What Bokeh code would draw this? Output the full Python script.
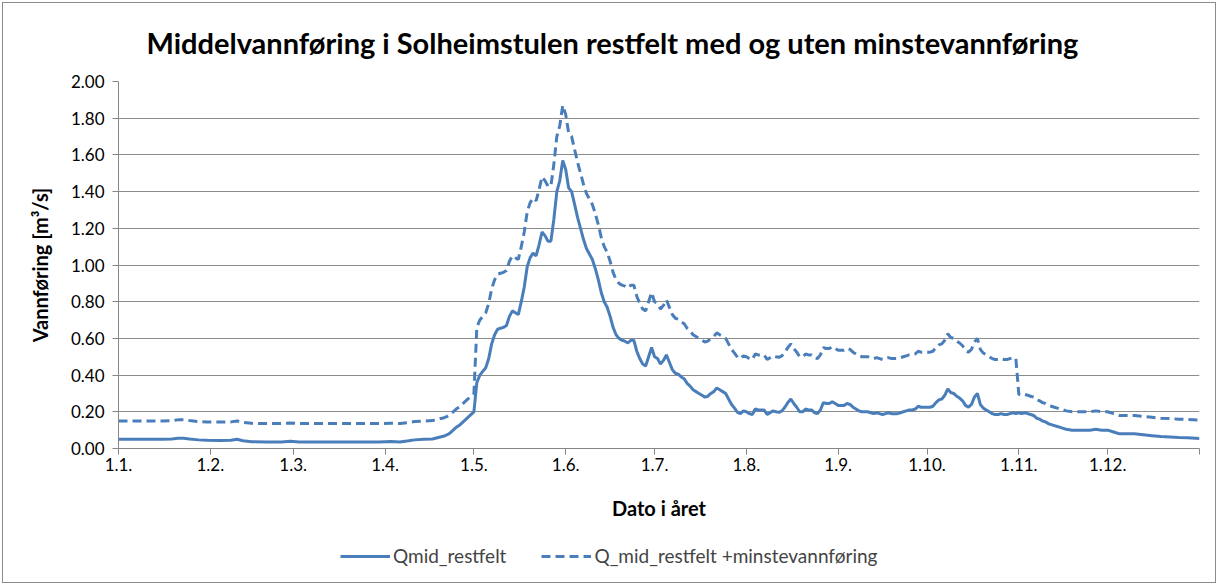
from bokeh.plotting import figure
from bokeh.layouts import column
from bokeh.models import Range1d, FixedTicker, NumeralTickFormatter, Legend, LegendItem
from bokeh.embed import file_html
from bokeh.resources import INLINE

# ---- data (day of year, 0 = 1 Jan) ----
dato = [0, 5, 10, 15, 18, 20, 22, 24, 27, 30, 34, 38, 40, 42, 45, 50, 55, 58, 61, 70,
        80, 88, 92, 95, 98, 100, 103, 106, 108, 110, 111, 112, 113, 114, 115, 116, 117, 118, 119, 120,
        121, 122, 123, 124, 125, 126, 127, 128, 129, 130, 131, 132, 133, 134, 135, 136, 137, 138, 139, 140,
        141, 142, 143, 144, 145, 146, 147, 148, 149, 150, 151, 152, 153, 154, 155, 156, 157, 158, 159, 160,
        161, 162, 163, 164, 165, 166, 167, 168, 169, 170, 171, 172, 173, 174, 175, 176, 177, 178, 179, 180,
        181, 182, 183, 184, 185, 186, 187, 188, 189, 190, 191, 192, 193, 194, 195, 196, 197, 198, 199, 200,
        201, 202, 203, 204, 205, 206, 207, 208, 209, 210, 211, 212, 213, 214, 215, 216, 217, 218, 219, 220,
        221, 222, 223, 224, 225, 226, 227, 228, 229, 230, 231, 232, 233, 234, 235, 236, 237, 238, 239, 240,
        241, 242, 243, 244, 245, 246, 247, 248, 249, 250, 251, 252, 253, 254, 255, 256, 257, 258, 259, 260,
        261, 262, 263, 264, 265, 266, 267, 268, 269, 270, 271, 272, 273, 274, 275, 276, 277, 278, 279, 280,
        281, 282, 283, 284, 285, 286, 287, 288, 289, 290, 291, 292, 293, 294, 295, 296, 297, 298, 299, 300,
        301, 302, 303, 304, 305, 306, 307, 308, 309, 310, 311, 312, 313, 314, 315, 316, 317, 318, 319, 320,
        322, 325, 328, 330, 332, 334, 336, 338, 340, 343, 346, 349, 352, 355, 358, 361, 365]

qmid_restfelt = [
    0.050, 0.050, 0.050, 0.050, 0.052, 0.056, 0.056, 0.052, 0.047, 0.045, 0.044, 0.045, 0.050, 0.042, 0.037, 0.036, 0.036, 0.039, 0.036, 0.036,
    0.036, 0.036, 0.038, 0.036, 0.042, 0.047, 0.050, 0.052, 0.060, 0.068, 0.075, 0.085, 0.100, 0.115, 0.125, 0.140, 0.155, 0.170, 0.185, 0.200,
    0.360, 0.400, 0.420, 0.440, 0.490, 0.570, 0.620, 0.650, 0.655, 0.660, 0.670, 0.720, 0.750, 0.740, 0.730, 0.800, 0.880, 0.990, 1.040, 1.065,
    1.050, 1.110, 1.180, 1.160, 1.130, 1.130, 1.250, 1.400, 1.460, 1.570, 1.520, 1.420, 1.400, 1.330, 1.260, 1.200, 1.140, 1.090, 1.060, 1.030,
    0.980, 0.920, 0.850, 0.800, 0.770, 0.720, 0.660, 0.620, 0.600, 0.590, 0.585, 0.575, 0.590, 0.590, 0.530, 0.490, 0.460, 0.450, 0.500, 0.550,
    0.500, 0.490, 0.460, 0.480, 0.510, 0.470, 0.430, 0.410, 0.405, 0.390, 0.380, 0.355, 0.340, 0.320, 0.310, 0.300, 0.290, 0.280, 0.285, 0.300,
    0.310, 0.330, 0.320, 0.310, 0.300, 0.270, 0.240, 0.220, 0.197, 0.190, 0.205, 0.200, 0.190, 0.185, 0.215, 0.210, 0.210, 0.210, 0.185, 0.195,
    0.205, 0.200, 0.197, 0.205, 0.225, 0.250, 0.270, 0.245, 0.225, 0.200, 0.200, 0.215, 0.210, 0.210, 0.195, 0.190, 0.210, 0.250, 0.245, 0.245,
    0.255, 0.245, 0.235, 0.235, 0.235, 0.245, 0.240, 0.225, 0.215, 0.205, 0.200, 0.200, 0.200, 0.195, 0.190, 0.195, 0.190, 0.185, 0.190, 0.195,
    0.190, 0.190, 0.190, 0.195, 0.200, 0.205, 0.210, 0.210, 0.215, 0.230, 0.225, 0.225, 0.225, 0.225, 0.230, 0.250, 0.265, 0.270, 0.290, 0.325,
    0.305, 0.300, 0.285, 0.275, 0.260, 0.235, 0.225, 0.240, 0.280, 0.300, 0.240, 0.220, 0.210, 0.200, 0.190, 0.185, 0.185, 0.190, 0.185, 0.185,
    0.190, 0.195, 0.190, 0.195, 0.190, 0.195, 0.190, 0.185, 0.180, 0.165, 0.160, 0.150, 0.145, 0.135, 0.130, 0.125, 0.120, 0.115, 0.110, 0.105,
    0.100, 0.100, 0.100, 0.105, 0.100, 0.100, 0.090, 0.080, 0.080, 0.080, 0.075, 0.070, 0.065, 0.063, 0.060, 0.058, 0.055]

qmid_restfelt_minstevannforing = [
    0.150, 0.150, 0.150, 0.150, 0.152, 0.156, 0.156, 0.152, 0.147, 0.145, 0.144, 0.145, 0.150, 0.142, 0.137, 0.136, 0.136, 0.139, 0.136, 0.136,
    0.136, 0.136, 0.138, 0.136, 0.142, 0.147, 0.150, 0.152, 0.160, 0.168, 0.175, 0.185, 0.200, 0.215, 0.225, 0.240, 0.255, 0.270, 0.285, 0.300,
    0.660, 0.700, 0.720, 0.740, 0.790, 0.870, 0.920, 0.950, 0.955, 0.960, 0.970, 1.020, 1.050, 1.040, 1.030, 1.100, 1.180, 1.290, 1.340, 1.365,
    1.350, 1.410, 1.480, 1.460, 1.430, 1.430, 1.550, 1.700, 1.760, 1.870, 1.820, 1.720, 1.700, 1.630, 1.560, 1.500, 1.440, 1.390, 1.360, 1.330,
    1.280, 1.220, 1.150, 1.100, 1.070, 1.020, 0.960, 0.920, 0.900, 0.890, 0.885, 0.875, 0.890, 0.890, 0.830, 0.790, 0.760, 0.750, 0.800, 0.850,
    0.800, 0.790, 0.760, 0.780, 0.810, 0.770, 0.730, 0.710, 0.705, 0.690, 0.680, 0.655, 0.640, 0.620, 0.610, 0.600, 0.590, 0.580, 0.585, 0.600,
    0.610, 0.630, 0.620, 0.610, 0.600, 0.570, 0.540, 0.520, 0.497, 0.490, 0.505, 0.500, 0.490, 0.485, 0.515, 0.510, 0.510, 0.510, 0.485, 0.495,
    0.505, 0.500, 0.497, 0.505, 0.525, 0.550, 0.570, 0.545, 0.525, 0.500, 0.500, 0.515, 0.510, 0.510, 0.495, 0.490, 0.510, 0.550, 0.545, 0.545,
    0.555, 0.545, 0.535, 0.535, 0.535, 0.545, 0.540, 0.525, 0.515, 0.505, 0.500, 0.500, 0.500, 0.495, 0.490, 0.495, 0.490, 0.485, 0.490, 0.495,
    0.490, 0.490, 0.490, 0.495, 0.500, 0.505, 0.510, 0.510, 0.515, 0.530, 0.525, 0.525, 0.525, 0.525, 0.530, 0.550, 0.565, 0.570, 0.590, 0.625,
    0.605, 0.600, 0.585, 0.575, 0.560, 0.535, 0.525, 0.540, 0.580, 0.600, 0.540, 0.520, 0.510, 0.500, 0.490, 0.485, 0.485, 0.490, 0.485, 0.485,
    0.490, 0.495, 0.490, 0.295, 0.290, 0.295, 0.290, 0.285, 0.280, 0.265, 0.260, 0.250, 0.245, 0.235, 0.230, 0.225, 0.220, 0.215, 0.210, 0.205,
    0.200, 0.200, 0.200, 0.205, 0.200, 0.200, 0.190, 0.180, 0.180, 0.180, 0.175, 0.170, 0.165, 0.163, 0.160, 0.158, 0.155]

tick_days = [0, 31, 59, 90, 120, 151, 181, 212, 243, 273, 304, 334, 365]
tick_labels = ["1.1.", "1.2.", "1.3.", "1.4.", "1.5.", "1.6.", "1.7.", "1.8.", "1.9.", "1.10.", "1.11.", "1.12.", ""]

title_text = "Middelvannføring i Solheimstulen restfelt med og uten minstevannføring"
series_names = ["Qmid_restfelt", "Q_mid_restfelt +minstevannføring"]

FONT = "Lato"
BLUE = "#4A7EBB"
W = 1218

p = figure(width=W, height=530, output_backend="svg", toolbar_location=None,
           x_range=Range1d(0, 365), y_range=Range1d(0, 2),
           min_border_left=118, min_border_right=19, min_border_top=79, min_border_bottom=82)

p.title.text = title_text
p.title.text_font = FONT
p.title.text_font_size = "29px"
p.title.text_font_style = "bold"
p.title.align = "left"
p.title.offset = 28
p.title.standoff = 44
p.title.text_color = "#000000"

p.outline_line_color = None
p.background_fill_color = "white"
p.border_fill_alpha = 0

p.xgrid.grid_line_color = None
p.ygrid.grid_line_color = "#8c8c8c"
p.ygrid.grid_line_width = 1

p.xaxis.ticker = FixedTicker(ticks=tick_days)
p.xaxis.major_label_overrides = {d: l for d, l in zip(tick_days, tick_labels)}
p.yaxis.ticker = FixedTicker(ticks=[0, 0.2, 0.4, 0.6, 0.8, 1.0, 1.2, 1.4, 1.6, 1.8, 2.0])
p.yaxis.formatter = NumeralTickFormatter(format="0.00")

for ax in (p.xaxis[0], p.yaxis[0]):
    ax.axis_line_color = "#868686"
    ax.major_tick_line_color = "#868686"
    ax.major_tick_out = 6
    ax.major_tick_in = 0
    ax.minor_tick_line_color = None
    ax.major_label_text_font = FONT
    ax.major_label_text_font_size = "17px"
    ax.major_label_text_color = "#000000"
    ax.axis_label_text_font = FONT
    ax.axis_label_text_font_style = "bold"
    ax.axis_label_text_color = "#000000"

p.xaxis.axis_label = "Dato i året"
p.xaxis.axis_label_text_font_size = "20px"
p.xaxis.major_label_standoff = 3
p.xaxis.axis_label_standoff = 22

p.yaxis.axis_label = "Vannføring [m³/s]"
p.yaxis.axis_label_text_font_size = "20px"
p.yaxis.major_label_standoff = 8
p.yaxis.axis_label_standoff = 16

p.line(dato, qmid_restfelt, line_color=BLUE, line_width=3)
p.line(dato, qmid_restfelt_minstevannforing, line_color=BLUE, line_width=3, line_dash="9 5")

# ---- legend strip underneath (a small figure that only carries the legend) ----
# its y-range lies above all data, so its own copies of the series stay out of view
pl = figure(width=W, height=55, output_backend="svg", toolbar_location=None,
            x_range=Range1d(0, 365), y_range=Range1d(10, 11),
            x_axis_type=None, y_axis_type=None,
            min_border_left=0, min_border_right=0, min_border_top=0, min_border_bottom=0)
pl.outline_line_color = None
pl.xgrid.grid_line_color = None
pl.ygrid.grid_line_color = None
pl.border_fill_alpha = 0
pl.background_fill_alpha = 0
l1 = pl.line(dato, qmid_restfelt, line_color=BLUE, line_width=3)
l2 = pl.line(dato, qmid_restfelt_minstevannforing, line_color=BLUE, line_width=3, line_dash="9 5")

legend = Legend(items=[LegendItem(label=series_names[0], renderers=[l1]),
                       LegendItem(label=series_names[1], renderers=[l2])],
                orientation="horizontal", location=(222, 18), margin=0,
                glyph_width=50, glyph_height=20, label_text_font=FONT,
                label_text_font_size="19px", label_standoff=3, spacing=35,
                padding=5, border_line_color=None, background_fill_alpha=0)
pl.add_layout(legend, "center")

layout = column(p, pl, spacing=0)
layout.styles = {"outline": "1px solid #8c8c8c", "outline-offset": "-3px"}

open("out.html", "w").write(file_html(layout, INLINE))
